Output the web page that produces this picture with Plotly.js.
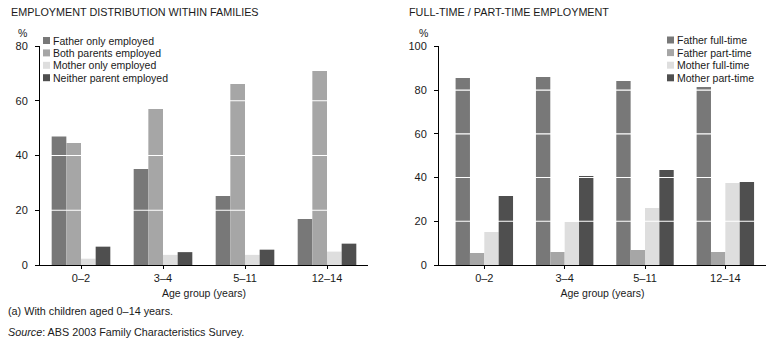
<!DOCTYPE html>
<html>
<head>
<meta charset="utf-8">
<script src="https://cdn.plot.ly/plotly-3.0.1.min.js"></script>
<style>html,body{margin:0;padding:0;background:#fff;}#chart{width:777px;height:354px;}</style>
</head>
<body>
<div id="chart"></div>
<script>
// ---- data ----
var ageGroups = ['0–2', '3–4', '5–11', '12–14'];

var leftNames = ['Father only employed', 'Both parents employed', 'Mother only employed', 'Neither parent employed'];
var fatherOnly = [46.9, 35.1, 25.2, 16.8];
var bothParents = [44.6, 57.0, 66.1, 70.9];
var motherOnly = [2.3, 3.7, 3.7, 4.9];
var neitherParent = [6.7, 4.7, 5.6, 7.8];

var rightNames = ['Father full-time', 'Father part-time', 'Mother full-time', 'Mother part-time'];
var fatherFT = [85.5, 86.0, 84.1, 81.4];
var fatherPT = [5.5, 5.9, 6.9, 5.9];
var motherFT = [15.1, 19.7, 26.1, 37.5];
var motherPT = [31.5, 40.7, 43.4, 38.0];

var leftTicks = [0, 20, 40, 60, 80];
var rightTicks = [0, 20, 40, 60, 80, 100];

// ---- styling ----
var colors = ['#787878', '#a6a6a6', '#dedede', '#4f4f4f'];
var W = 777, H = 354;
function px(x) { return x / W; }
function py(y) { return 1 - y / H; }
var FONT = 'Liberation Sans, Arial, sans-serif';

var leftSeries = [fatherOnly, bothParents, motherOnly, neitherParent];
var rightSeries = [fatherFT, fatherPT, motherFT, motherPT];

var traces = [];
leftSeries.forEach(function (vals, i) {
  traces.push({type: 'bar', x: ageGroups, y: vals, name: leftNames[i], xaxis: 'x', yaxis: 'y',
    marker: {color: colors[i], line: {width: 0}}, showlegend: false, hoverinfo: 'y'});
});
rightSeries.forEach(function (vals, i) {
  traces.push({type: 'bar', x: ageGroups, y: vals, name: rightNames[i], xaxis: 'x2', yaxis: 'y2',
    marker: {color: colors[i], line: {width: 0}}, showlegend: false, hoverinfo: 'y'});
});

var shapes = [];
var annotations = [];

// white gridlines over bars
leftTicks.slice(1, -1).forEach(function (t) {
  shapes.push({type: 'line', xref: 'x domain', yref: 'y', x0: 0, x1: 1, y0: t, y1: t,
    line: {color: '#ffffff', width: 1.2}, layer: 'above'});
});
rightTicks.slice(1, -1).forEach(function (t) {
  shapes.push({type: 'line', xref: 'x2 domain', yref: 'y2', x0: 0, x1: 1, y0: t, y1: t,
    line: {color: '#ffffff', width: 1.2}, layer: 'above'});
});

// custom legends
function addLegend(names, xm, y0, step) {
  names.forEach(function (n, i) {
    var yc = y0 + step * i;
    shapes.push({type: 'rect', xref: 'paper', yref: 'paper', x0: px(xm), x1: px(xm + 7),
      y0: py(yc + 3.5), y1: py(yc - 3.5), fillcolor: colors[i], line: {width: 0}});
    annotations.push({xref: 'paper', yref: 'paper', x: px(xm + 7.5), y: py(yc), xanchor: 'left', yanchor: 'middle',
      text: n, showarrow: false, font: {family: FONT, size: 10.5, color: '#1a1a1a'}});
  });
}
addLegend(leftNames, 43, 40.5, 12.4);
addLegend(rightNames, 667, 40, 12.6);

// titles and labels
function txt(t, x, y, xa, size) {
  return {xref: 'paper', yref: 'paper', x: px(x), y: py(y), xanchor: xa || 'left', yanchor: 'middle',
    text: t, showarrow: false, font: {family: FONT, size: size || 10, color: '#1a1a1a'}};
}
annotations.push(txt('EMPLOYMENT DISTRIBUTION WITHIN FAMILIES', 9, 12, 'left', 10.8));
annotations.push(txt('FULL-TIME / PART-TIME EMPLOYMENT', 407, 12, 'left', 10.8));
annotations.push(txt('%', 22, 33, 'center', 10.5));
annotations.push(txt('%', 423, 33, 'center', 10.5));
annotations.push(txt('(a) With children aged 0–14 years.', 6, 311, 'left', 10.8));
annotations.push(txt('<i>Source</i>: ABS 2003 Family Characteristics Survey.', 6, 332, 'left', 10.8));

var axisCommon = {
  showgrid: false, zeroline: false, showline: true, linecolor: '#000', linewidth: 1,
  ticks: 'outside', ticklen: 4, tickwidth: 1, tickcolor: '#000',
  tickfont: {family: FONT, size: 11, color: '#1a1a1a'}, fixedrange: true
};

var xTitle = {text: 'Age group (years)', font: {family: FONT, size: 10.5, color: '#1a1a1a'}, standoff: 6};

var layout = {
  width: W, height: H,
  margin: {l: 0, r: 0, t: 0, b: 0},
  paper_bgcolor: '#ffffff', plot_bgcolor: '#ffffff',
  barmode: 'group', bargap: 0.285, bargroupgap: 0,
  showlegend: false,
  font: {family: FONT, size: 10, color: '#1a1a1a'},
  xaxis: Object.assign({}, axisCommon, {domain: [px(40), px(368)], anchor: 'y', range: [-0.5, 3.5],
    type: 'category', ticklen: 3, ticklabelstandoff: 0, title: xTitle}),
  yaxis: Object.assign({}, axisCommon, {domain: [py(265), py(46)], anchor: 'x', range: [0, 80],
    tickvals: leftTicks, ticklabelstandoff: 5}),
  xaxis2: Object.assign({}, axisCommon, {domain: [px(439), px(766)], anchor: 'y2', range: [-0.564, 3.506],
    type: 'category', ticklen: 3, ticklabelstandoff: 0, title: xTitle}),
  yaxis2: Object.assign({}, axisCommon, {domain: [py(265), py(46.3)], anchor: 'x2', range: [0, 100],
    tickvals: rightTicks, ticklabelstandoff: 5}),
  shapes: shapes,
  annotations: annotations
};

Plotly.newPlot('chart', traces, layout, {displayModeBar: false, staticPlot: true});
</script>
</body>
</html>
